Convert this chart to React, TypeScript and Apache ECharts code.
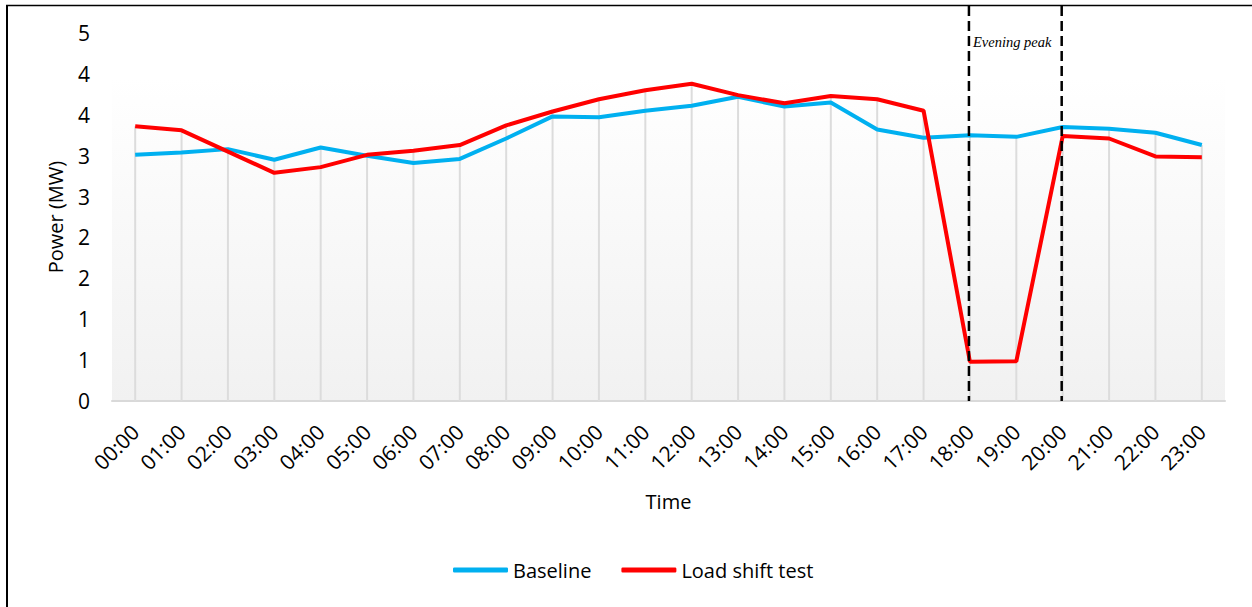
import React, { useEffect, useRef } from "react";
import * as echarts from "echarts";

const categories = [
  "00:00", "01:00", "02:00", "03:00", "04:00", "05:00", "06:00", "07:00",
  "08:00", "09:00", "10:00", "11:00", "12:00", "13:00", "14:00", "15:00",
  "16:00", "17:00", "18:00", "19:00", "20:00", "21:00", "22:00", "23:00",
];
const baseline = [
  3.01, 3.04, 3.08, 2.95, 3.1, 3.0, 2.91, 2.96, 3.21, 3.48, 3.47, 3.55,
  3.61, 3.72, 3.6, 3.65, 3.32, 3.22, 3.25, 3.23, 3.35, 3.33, 3.28, 3.13,
];
const loadShift = [
  3.36, 3.31, 3.05, 2.79, 2.86, 3.01, 3.06, 3.13, 3.37, 3.54, 3.69, 3.8,
  3.88, 3.74, 3.64, 3.73, 3.69, 3.55, 0.48, 0.485, 3.24, 3.21, 2.99, 2.98,
];
const yTickLabels = ["0", "1", "1", "2", "2", "3", "3", "4", "4", "5"];
const seriesNames = ["Baseline", "Load shift test"];
const peakStart = "18:00";
const peakEnd = "20:00";
const peakLabel = "Evening peak";

const FONT = "'Open Sans', sans-serif";

export default function App() {
  const ref = useRef<HTMLDivElement>(null);

  useEffect(() => {
    if (!ref.current) return;
    const chart = echarts.init(ref.current, null, { renderer: "svg" });
    const dropValues = baseline.map((b, i) => Math.max(b, loadShift[i]));

    chart.setOption({
      animation: false,
      backgroundColor: "#ffffff",
      textStyle: { fontFamily: FONT },
      grid: {
        left: 112,
        right: 27,
        top: 33,
        bottom: 206,
        show: true,
        borderWidth: 0,
        backgroundColor: new echarts.graphic.LinearGradient(0, 0, 0, 1, [
          { offset: 0, color: "#ffffff" },
          { offset: 0.12, color: "#ffffff" },
          { offset: 1, color: "#f1f1f1" },
        ]),
      },
      legend: {
        left: 448,
        top: 555,
        itemWidth: 55,
        itemHeight: 5,
        itemGap: 30,
        icon: "roundRect",
        data: seriesNames,
        textStyle: { fontFamily: FONT, fontSize: 20, color: "#000" },
      },
      xAxis: {
        type: "category",
        data: categories,
        name: "Time",
        nameLocation: "middle",
        nameGap: 90,
        nameTextStyle: { fontFamily: FONT, fontSize: 20, color: "#000" },
        axisLine: { show: true, lineStyle: { color: "#d9d9d9", width: 2 } },
        axisTick: { show: false },
        splitLine: { show: false },
        axisLabel: {
          rotate: 45,
          margin: 27,
          fontFamily: FONT,
          fontSize: 21,
          color: "#000",
          interval: 0,
        },
      },
      yAxis: {
        type: "value",
        min: 0,
        max: 4.5,
        interval: 0.5,
        name: "Power (MW)",
        nameLocation: "middle",
        nameGap: 47,
        nameTextStyle: { fontFamily: FONT, fontSize: 20, color: "#000" },
        axisLine: { show: false },
        axisTick: { show: false },
        splitLine: { show: false },
        axisLabel: {
          margin: 22,
          fontFamily: FONT,
          fontSize: 21,
          color: "#000",
          formatter: (v: number) => yTickLabels[Math.round(v / 0.5)] ?? "",
        },
      },
      series: [
        {
          name: "drop",
          type: "bar",
          data: dropValues,
          barWidth: 2,
          silent: true,
          z: 1,
          itemStyle: { color: "#dcdcdc" },
        },
        {
          name: seriesNames[0],
          type: "line",
          data: baseline,
          symbol: "none",
          z: 3,
          color: "#00b0f0",
          lineStyle: { color: "#00b0f0", width: 4 },
        },
        {
          name: seriesNames[1],
          type: "line",
          data: loadShift,
          symbol: "none",
          z: 4,
          color: "#ff0000",
          lineStyle: { color: "#ff0000", width: 4 },
        },
      ],
    });

    const x1 = chart.convertToPixel({ xAxisIndex: 0 }, peakStart) as number;
    const x2 = chart.convertToPixel({ xAxisIndex: 0 }, peakEnd) as number;
    const y0 = chart.convertToPixel({ yAxisIndex: 0 }, 0) as number;
    const dash = { stroke: "#000", lineWidth: 2.5, lineDash: [10, 5] };

    chart.setOption({
      graphic: [
        { type: "line", shape: { x1: 7, y1: 5, x2: 7, y2: 607 }, style: { stroke: "#000", lineWidth: 2 }, z: 100 },
        { type: "line", shape: { x1: 6, y1: 5.5, x2: 1252, y2: 5.5 }, style: { stroke: "#000", lineWidth: 1.5 }, z: 100 },
        { type: "line", shape: { x1: x1 - 1, y1: 6, x2: x1 - 1, y2: y0 }, style: dash, z: 100 },
        { type: "line", shape: { x1: x2 - 1, y1: 6, x2: x2 - 1, y2: y0 }, style: dash, z: 100 },
        {
          type: "text",
          x: x1 + 3,
          y: 42,
          style: {
            text: peakLabel,
            font: "italic 14.5px 'Liberation Serif', 'DejaVu Serif', serif",
            fill: "#000",
            verticalAlign: "middle",
          },
          z: 100,
        },
      ],
    });

    return () => chart.dispose();
  }, []);

  return (
    <div
      ref={ref}
      style={{ position: "fixed", left: 0, top: 0, width: 1252, height: 607 }}
    />
  );
}
